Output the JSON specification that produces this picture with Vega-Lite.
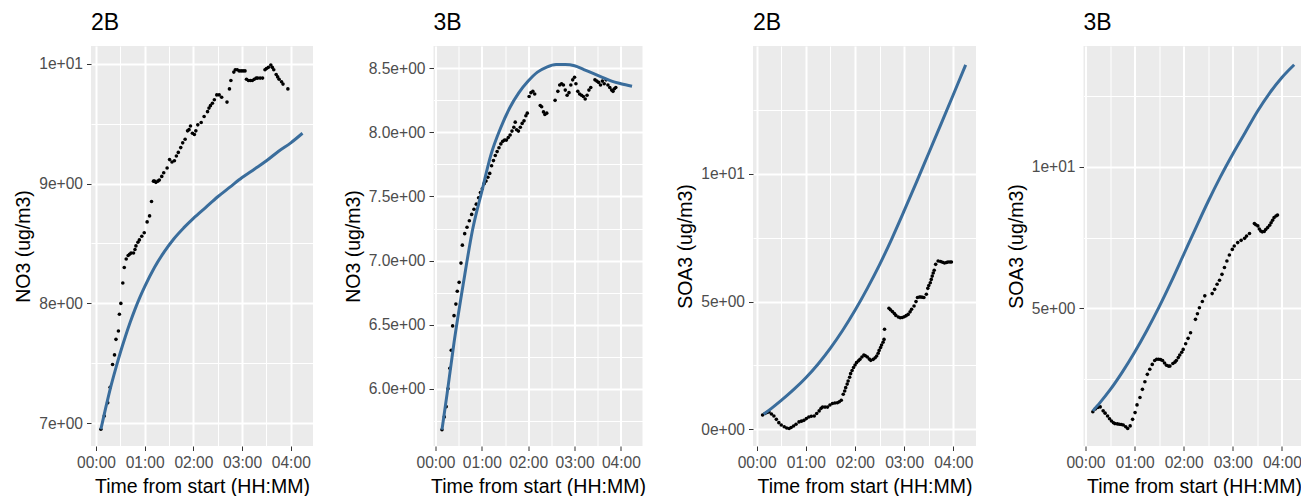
{
"$schema": "https://vega.github.io/schema/vega-lite/v6.json",
"background": "white",
"padding": {"left": 13, "top": 12, "right": 0, "bottom": 0},
"config": {
  "font": "Liberation Sans",
  "view": {"fill": "#EBEBEB", "stroke": null},
  "axis": {"domain": false, "gridColor": "#FFFFFF", "tickColor": "#333333", "tickSize": 4.5, "tickWidth": 1, "labelColor": "#4D4D4D", "labelFontSize": 15.6, "labelPadding": 4, "titleFontSize": 19.5, "titleFontWeight": "normal", "titleColor": "#000000", "titlePadding": 5, "labelOverlap": false, "labelFlush": false},
  "axisX": {"labelPadding": 5, "titlePadding": 6},
  "title": {"anchor": "start", "frame": "group", "fontSize": 23, "fontWeight": "normal", "color": "#000000", "offset": 11},
  "concat": {"spacing": 29.5}
},
"datasets": {
"obs": [
{"panel":"a","hours":0.10,"conc":6.95},{"panel":"a","hours":0.17,"conc":7.06},{"panel":"a","hours":0.24,"conc":7.17},{"panel":"a","hours":0.29,"conc":7.30},{"panel":"a","hours":0.34,"conc":7.49},{"panel":"a","hours":0.38,"conc":7.57},{"panel":"a","hours":0.41,"conc":7.70},{"panel":"a","hours":0.46,"conc":7.77},{"panel":"a","hours":0.48,"conc":7.91},{"panel":"a","hours":0.51,"conc":8.00},{"panel":"a","hours":0.55,"conc":8.17},{"panel":"a","hours":0.58,"conc":8.30},{"panel":"a","hours":0.62,"conc":8.37},{"panel":"a","hours":0.66,"conc":8.40},{"panel":"a","hours":0.69,"conc":8.41},{"panel":"a","hours":0.72,"conc":8.42},{"panel":"a","hours":0.77,"conc":8.42},{"panel":"a","hours":0.80,"conc":8.45},{"panel":"a","hours":0.82,"conc":8.48},{"panel":"a","hours":0.86,"conc":8.51},{"panel":"a","hours":0.89,"conc":8.53},{"panel":"a","hours":0.94,"conc":8.56},{"panel":"a","hours":0.99,"conc":8.59},{"panel":"a","hours":1.05,"conc":8.68},{"panel":"a","hours":1.10,"conc":8.73},{"panel":"a","hours":1.14,"conc":8.85},{"panel":"a","hours":1.18,"conc":9.02},{"panel":"a","hours":1.20,"conc":9.02},{"panel":"a","hours":1.23,"conc":9.01},{"panel":"a","hours":1.27,"conc":9.02},{"panel":"a","hours":1.30,"conc":9.03},{"panel":"a","hours":1.35,"conc":9.06},{"panel":"a","hours":1.39,"conc":9.09},{"panel":"a","hours":1.46,"conc":9.13},{"panel":"a","hours":1.51,"conc":9.20},{"panel":"a","hours":1.56,"conc":9.18},{"panel":"a","hours":1.61,"conc":9.19},{"panel":"a","hours":1.65,"conc":9.23},{"panel":"a","hours":1.69,"conc":9.26},{"panel":"a","hours":1.74,"conc":9.30},{"panel":"a","hours":1.78,"conc":9.34},{"panel":"a","hours":1.83,"conc":9.37},{"panel":"a","hours":1.88,"conc":9.44},{"panel":"a","hours":1.91,"conc":9.45},{"panel":"a","hours":1.94,"conc":9.48},{"panel":"a","hours":1.98,"conc":9.42},{"panel":"a","hours":2.02,"conc":9.41},{"panel":"a","hours":2.05,"conc":9.44},{"panel":"a","hours":2.09,"conc":9.49},{"panel":"a","hours":2.16,"conc":9.51},{"panel":"a","hours":2.22,"conc":9.56},{"panel":"a","hours":2.29,"conc":9.60},{"panel":"a","hours":2.32,"conc":9.63},{"panel":"a","hours":2.35,"conc":9.65},{"panel":"a","hours":2.39,"conc":9.67},{"panel":"a","hours":2.43,"conc":9.70},{"panel":"a","hours":2.48,"conc":9.74},{"panel":"a","hours":2.53,"conc":9.74},{"panel":"a","hours":2.58,"conc":9.72},{"panel":"a","hours":2.69,"conc":9.68},{"panel":"a","hours":2.74,"conc":9.79},{"panel":"a","hours":2.77,"conc":9.86},{"panel":"a","hours":2.83,"conc":9.93},{"panel":"a","hours":2.86,"conc":9.95},{"panel":"a","hours":2.90,"conc":9.95},{"panel":"a","hours":2.94,"conc":9.94},{"panel":"a","hours":2.98,"conc":9.94},{"panel":"a","hours":3.02,"conc":9.94},{"panel":"a","hours":3.06,"conc":9.94},{"panel":"a","hours":3.09,"conc":9.87},{"panel":"a","hours":3.13,"conc":9.86},{"panel":"a","hours":3.17,"conc":9.86},{"panel":"a","hours":3.21,"conc":9.86},{"panel":"a","hours":3.25,"conc":9.87},{"panel":"a","hours":3.29,"conc":9.88},{"panel":"a","hours":3.32,"conc":9.88},{"panel":"a","hours":3.37,"conc":9.88},{"panel":"a","hours":3.42,"conc":9.88},{"panel":"a","hours":3.47,"conc":9.95},{"panel":"a","hours":3.50,"conc":9.96},{"panel":"a","hours":3.54,"conc":9.97},{"panel":"a","hours":3.59,"conc":9.99},{"panel":"a","hours":3.62,"conc":9.97},{"panel":"a","hours":3.65,"conc":9.95},{"panel":"a","hours":3.70,"conc":9.91},{"panel":"a","hours":3.73,"conc":9.89},{"panel":"a","hours":3.76,"conc":9.87},{"panel":"a","hours":3.81,"conc":9.85},{"panel":"a","hours":3.84,"conc":9.83},{"panel":"a","hours":3.94,"conc":9.79},
{"panel":"b","hours":0.14,"conc":5.68},{"panel":"b","hours":0.19,"conc":5.78},{"panel":"b","hours":0.23,"conc":5.86},{"panel":"b","hours":0.27,"conc":6.00},{"panel":"b","hours":0.31,"conc":6.16},{"panel":"b","hours":0.34,"conc":6.30},{"panel":"b","hours":0.37,"conc":6.49},{"panel":"b","hours":0.40,"conc":6.57},{"panel":"b","hours":0.44,"conc":6.66},{"panel":"b","hours":0.47,"conc":6.76},{"panel":"b","hours":0.51,"conc":6.83},{"panel":"b","hours":0.55,"conc":6.98},{"panel":"b","hours":0.58,"conc":7.12},{"panel":"b","hours":0.63,"conc":7.21},{"panel":"b","hours":0.68,"conc":7.26},{"panel":"b","hours":0.73,"conc":7.31},{"panel":"b","hours":0.78,"conc":7.36},{"panel":"b","hours":0.83,"conc":7.40},{"panel":"b","hours":0.88,"conc":7.44},{"panel":"b","hours":0.93,"conc":7.49},{"panel":"b","hours":0.97,"conc":7.53},{"panel":"b","hours":1.01,"conc":7.56},{"panel":"b","hours":1.05,"conc":7.60},{"panel":"b","hours":1.09,"conc":7.62},{"panel":"b","hours":1.13,"conc":7.65},{"panel":"b","hours":1.17,"conc":7.68},{"panel":"b","hours":1.21,"conc":7.74},{"panel":"b","hours":1.25,"conc":7.78},{"panel":"b","hours":1.29,"conc":7.82},{"panel":"b","hours":1.33,"conc":7.85},{"panel":"b","hours":1.37,"conc":7.88},{"panel":"b","hours":1.41,"conc":7.91},{"panel":"b","hours":1.45,"conc":7.93},{"panel":"b","hours":1.49,"conc":7.94},{"panel":"b","hours":1.53,"conc":7.94},{"panel":"b","hours":1.57,"conc":7.96},{"panel":"b","hours":1.61,"conc":7.98},{"panel":"b","hours":1.65,"conc":8.01},{"panel":"b","hours":1.69,"conc":8.04},{"panel":"b","hours":1.72,"conc":8.08},{"panel":"b","hours":1.75,"conc":8.02},{"panel":"b","hours":1.79,"conc":8.01},{"panel":"b","hours":1.83,"conc":8.04},{"panel":"b","hours":1.87,"conc":8.07},{"panel":"b","hours":1.91,"conc":8.09},{"panel":"b","hours":1.95,"conc":8.13},{"panel":"b","hours":1.98,"conc":8.15},{"panel":"b","hours":2.02,"conc":8.28},{"panel":"b","hours":2.06,"conc":8.31},{"panel":"b","hours":2.10,"conc":8.32},{"panel":"b","hours":2.14,"conc":8.30},{"panel":"b","hours":2.26,"conc":8.21},{"panel":"b","hours":2.29,"conc":8.20},{"panel":"b","hours":2.33,"conc":8.16},{"panel":"b","hours":2.36,"conc":8.14},{"panel":"b","hours":2.40,"conc":8.15},{"panel":"b","hours":2.58,"conc":8.25},{"panel":"b","hours":2.64,"conc":8.32},{"panel":"b","hours":2.68,"conc":8.37},{"panel":"b","hours":2.72,"conc":8.38},{"panel":"b","hours":2.76,"conc":8.37},{"panel":"b","hours":2.80,"conc":8.33},{"panel":"b","hours":2.84,"conc":8.29},{"panel":"b","hours":2.88,"conc":8.31},{"panel":"b","hours":2.92,"conc":8.37},{"panel":"b","hours":2.96,"conc":8.41},{"panel":"b","hours":3.00,"conc":8.43},{"panel":"b","hours":3.03,"conc":8.38},{"panel":"b","hours":3.07,"conc":8.32},{"panel":"b","hours":3.11,"conc":8.30},{"panel":"b","hours":3.15,"conc":8.29},{"panel":"b","hours":3.19,"conc":8.28},{"panel":"b","hours":3.23,"conc":8.26},{"panel":"b","hours":3.27,"conc":8.29},{"panel":"b","hours":3.31,"conc":8.33},{"panel":"b","hours":3.35,"conc":8.35},{"panel":"b","hours":3.44,"conc":8.41},{"panel":"b","hours":3.48,"conc":8.40},{"panel":"b","hours":3.52,"conc":8.39},{"panel":"b","hours":3.56,"conc":8.37},{"panel":"b","hours":3.60,"conc":8.40},{"panel":"b","hours":3.64,"conc":8.38},{"panel":"b","hours":3.68,"conc":8.41},{"panel":"b","hours":3.72,"conc":8.37},{"panel":"b","hours":3.76,"conc":8.35},{"panel":"b","hours":3.80,"conc":8.33},{"panel":"b","hours":3.83,"conc":8.32},{"panel":"b","hours":3.86,"conc":8.34},{"panel":"b","hours":3.89,"conc":8.35},
{"panel":"c","hours":0.12,"conc":0.56},{"panel":"c","hours":0.17,"conc":0.62},{"panel":"c","hours":0.21,"conc":0.66},{"panel":"c","hours":0.25,"conc":0.68},{"panel":"c","hours":0.30,"conc":0.60},{"panel":"c","hours":0.35,"conc":0.52},{"panel":"c","hours":0.40,"conc":0.39},{"panel":"c","hours":0.45,"conc":0.26},{"panel":"c","hours":0.50,"conc":0.17},{"panel":"c","hours":0.56,"conc":0.10},{"panel":"c","hours":0.61,"conc":0.05},{"panel":"c","hours":0.66,"conc":0.03},{"panel":"c","hours":0.70,"conc":0.07},{"panel":"c","hours":0.75,"conc":0.13},{"panel":"c","hours":0.80,"conc":0.20},{"panel":"c","hours":0.86,"conc":0.29},{"panel":"c","hours":0.91,"conc":0.32},{"panel":"c","hours":0.96,"conc":0.35},{"panel":"c","hours":1.01,"conc":0.42},{"panel":"c","hours":1.06,"conc":0.48},{"panel":"c","hours":1.11,"conc":0.51},{"panel":"c","hours":1.17,"conc":0.52},{"panel":"c","hours":1.22,"conc":0.62},{"panel":"c","hours":1.27,"conc":0.72},{"panel":"c","hours":1.31,"conc":0.82},{"panel":"c","hours":1.34,"conc":0.87},{"panel":"c","hours":1.39,"conc":0.87},{"panel":"c","hours":1.44,"conc":0.87},{"panel":"c","hours":1.49,"conc":0.95},{"panel":"c","hours":1.54,"conc":1.01},{"panel":"c","hours":1.59,"conc":1.03},{"panel":"c","hours":1.64,"conc":1.04},{"panel":"c","hours":1.68,"conc":1.08},{"panel":"c","hours":1.72,"conc":1.14},{"panel":"c","hours":1.76,"conc":1.37},{"panel":"c","hours":1.79,"conc":1.50},{"panel":"c","hours":1.81,"conc":1.63},{"panel":"c","hours":1.84,"conc":1.77},{"panel":"c","hours":1.86,"conc":1.89},{"panel":"c","hours":1.89,"conc":2.04},{"panel":"c","hours":1.91,"conc":2.18},{"panel":"c","hours":1.94,"conc":2.30},{"panel":"c","hours":1.97,"conc":2.42},{"panel":"c","hours":2.00,"conc":2.52},{"panel":"c","hours":2.03,"conc":2.61},{"panel":"c","hours":2.07,"conc":2.68},{"panel":"c","hours":2.10,"conc":2.74},{"panel":"c","hours":2.14,"conc":2.83},{"panel":"c","hours":2.18,"conc":2.91},{"panel":"c","hours":2.21,"conc":2.88},{"panel":"c","hours":2.25,"conc":2.83},{"panel":"c","hours":2.29,"conc":2.75},{"panel":"c","hours":2.32,"conc":2.70},{"panel":"c","hours":2.37,"conc":2.74},{"panel":"c","hours":2.41,"conc":2.80},{"panel":"c","hours":2.44,"conc":2.87},{"panel":"c","hours":2.47,"conc":2.98},{"panel":"c","hours":2.49,"conc":3.09},{"panel":"c","hours":2.52,"conc":3.20},{"panel":"c","hours":2.54,"conc":3.30},{"panel":"c","hours":2.57,"conc":3.41},{"panel":"c","hours":2.59,"conc":3.52},{"panel":"c","hours":2.60,"conc":3.92},{"panel":"c","hours":2.69,"conc":4.74},{"panel":"c","hours":2.72,"conc":4.68},{"panel":"c","hours":2.76,"conc":4.61},{"panel":"c","hours":2.80,"conc":4.53},{"panel":"c","hours":2.83,"conc":4.46},{"panel":"c","hours":2.88,"conc":4.40},{"panel":"c","hours":2.92,"conc":4.37},{"panel":"c","hours":2.96,"conc":4.38},{"panel":"c","hours":3.00,"conc":4.41},{"panel":"c","hours":3.04,"conc":4.45},{"panel":"c","hours":3.08,"conc":4.50},{"panel":"c","hours":3.12,"conc":4.60},{"panel":"c","hours":3.15,"conc":4.70},{"panel":"c","hours":3.20,"conc":4.83},{"panel":"c","hours":3.24,"conc":5.00},{"panel":"c","hours":3.27,"conc":5.16},{"panel":"c","hours":3.31,"conc":5.18},{"panel":"c","hours":3.34,"conc":5.18},{"panel":"c","hours":3.37,"conc":5.17},{"panel":"c","hours":3.40,"conc":5.16},{"panel":"c","hours":3.45,"conc":5.29},{"panel":"c","hours":3.48,"conc":5.52},{"panel":"c","hours":3.50,"conc":5.63},{"panel":"c","hours":3.53,"conc":5.74},{"panel":"c","hours":3.55,"conc":5.87},{"panel":"c","hours":3.57,"conc":6.00},{"panel":"c","hours":3.59,"conc":6.12},{"panel":"c","hours":3.61,"conc":6.23},{"panel":"c","hours":3.64,"conc":6.46},{"panel":"c","hours":3.69,"conc":6.59},{"panel":"c","hours":3.74,"conc":6.57},{"panel":"c","hours":3.78,"conc":6.54},{"panel":"c","hours":3.82,"conc":6.51},{"panel":"c","hours":3.86,"conc":6.53},{"panel":"c","hours":3.89,"conc":6.55},{"panel":"c","hours":3.93,"conc":6.55},{"panel":"c","hours":3.96,"conc":6.55},
{"panel":"d","hours":0.15,"conc":1.35},{"panel":"d","hours":0.20,"conc":1.45},{"panel":"d","hours":0.25,"conc":1.50},{"panel":"d","hours":0.30,"conc":1.52},{"panel":"d","hours":0.36,"conc":1.38},{"panel":"d","hours":0.40,"conc":1.30},{"panel":"d","hours":0.45,"conc":1.20},{"panel":"d","hours":0.49,"conc":1.10},{"panel":"d","hours":0.53,"conc":1.02},{"panel":"d","hours":0.57,"conc":0.96},{"panel":"d","hours":0.60,"conc":0.93},{"panel":"d","hours":0.65,"conc":0.92},{"panel":"d","hours":0.69,"conc":0.91},{"panel":"d","hours":0.73,"conc":0.90},{"panel":"d","hours":0.77,"conc":0.88},{"panel":"d","hours":0.82,"conc":0.82},{"panel":"d","hours":0.86,"conc":0.76},{"panel":"d","hours":0.91,"conc":0.85},{"panel":"d","hours":0.96,"conc":1.08},{"panel":"d","hours":1.01,"conc":1.32},{"panel":"d","hours":1.05,"conc":1.59},{"panel":"d","hours":1.11,"conc":1.85},{"panel":"d","hours":1.16,"conc":2.14},{"panel":"d","hours":1.21,"conc":2.41},{"panel":"d","hours":1.26,"conc":2.67},{"panel":"d","hours":1.31,"conc":2.85},{"panel":"d","hours":1.36,"conc":3.02},{"panel":"d","hours":1.41,"conc":3.16},{"panel":"d","hours":1.45,"conc":3.20},{"panel":"d","hours":1.49,"conc":3.20},{"panel":"d","hours":1.53,"conc":3.19},{"panel":"d","hours":1.57,"conc":3.16},{"panel":"d","hours":1.61,"conc":3.07},{"panel":"d","hours":1.65,"conc":2.99},{"panel":"d","hours":1.69,"conc":2.96},{"panel":"d","hours":1.72,"conc":2.96},{"panel":"d","hours":1.78,"conc":3.05},{"panel":"d","hours":1.82,"conc":3.10},{"panel":"d","hours":1.85,"conc":3.16},{"panel":"d","hours":1.89,"conc":3.26},{"panel":"d","hours":1.92,"conc":3.35},{"panel":"d","hours":1.96,"conc":3.45},{"panel":"d","hours":1.99,"conc":3.55},{"panel":"d","hours":2.04,"conc":3.75},{"panel":"d","hours":2.09,"conc":3.94},{"panel":"d","hours":2.14,"conc":4.14},{"panel":"d","hours":2.24,"conc":4.61},{"panel":"d","hours":2.28,"conc":4.81},{"panel":"d","hours":2.32,"conc":5.02},{"panel":"d","hours":2.38,"conc":5.24},{"panel":"d","hours":2.43,"conc":5.44},{"panel":"d","hours":2.58,"conc":5.52},{"panel":"d","hours":2.63,"conc":5.67},{"panel":"d","hours":2.68,"conc":5.85},{"panel":"d","hours":2.73,"conc":5.99},{"panel":"d","hours":2.78,"conc":6.20},{"panel":"d","hours":2.83,"conc":6.44},{"panel":"d","hours":2.88,"conc":6.67},{"panel":"d","hours":2.93,"conc":6.88},{"panel":"d","hours":2.99,"conc":7.08},{"panel":"d","hours":3.03,"conc":7.20},{"panel":"d","hours":3.10,"conc":7.32},{"panel":"d","hours":3.17,"conc":7.40},{"panel":"d","hours":3.24,"conc":7.47},{"panel":"d","hours":3.28,"conc":7.55},{"panel":"d","hours":3.34,"conc":7.64},{"panel":"d","hours":3.44,"conc":7.99},{"panel":"d","hours":3.47,"conc":7.95},{"panel":"d","hours":3.51,"conc":7.91},{"panel":"d","hours":3.54,"conc":7.80},{"panel":"d","hours":3.57,"conc":7.73},{"panel":"d","hours":3.60,"conc":7.70},{"panel":"d","hours":3.64,"conc":7.71},{"panel":"d","hours":3.67,"conc":7.78},{"panel":"d","hours":3.71,"conc":7.85},{"panel":"d","hours":3.75,"conc":7.93},{"panel":"d","hours":3.78,"conc":8.02},{"panel":"d","hours":3.81,"conc":8.11},{"panel":"d","hours":3.84,"conc":8.20},{"panel":"d","hours":3.88,"conc":8.26},{"panel":"d","hours":3.91,"conc":8.29}
],
"mod": [
{"panel":"a","hours":0.10,"conc":6.95},{"panel":"a","hours":0.2,"conc":7.13},{"panel":"a","hours":0.3,"conc":7.30},{"panel":"a","hours":0.4,"conc":7.45},{"panel":"a","hours":0.5,"conc":7.59},{"panel":"a","hours":0.6,"conc":7.72},{"panel":"a","hours":0.7,"conc":7.84},{"panel":"a","hours":0.8,"conc":7.95},{"panel":"a","hours":0.9,"conc":8.05},{"panel":"a","hours":1.0,"conc":8.14},{"panel":"a","hours":1.2,"conc":8.30},{"panel":"a","hours":1.4,"conc":8.43},{"panel":"a","hours":1.6,"conc":8.54},{"panel":"a","hours":1.8,"conc":8.63},{"panel":"a","hours":2.0,"conc":8.71},{"panel":"a","hours":2.25,"conc":8.80},{"panel":"a","hours":2.5,"conc":8.89},{"panel":"a","hours":2.75,"conc":8.97},{"panel":"a","hours":3.0,"conc":9.05},{"panel":"a","hours":3.25,"conc":9.12},{"panel":"a","hours":3.5,"conc":9.19},{"panel":"a","hours":3.75,"conc":9.27},{"panel":"a","hours":4.0,"conc":9.34},{"panel":"a","hours":4.24,"conc":9.42},
{"panel":"b","hours":0.14,"conc":5.68},{"panel":"b","hours":0.25,"conc":5.96},{"panel":"b","hours":0.4,"conc":6.36},{"panel":"b","hours":0.6,"conc":6.82},{"panel":"b","hours":0.8,"conc":7.24},{"panel":"b","hours":1.0,"conc":7.54},{"panel":"b","hours":1.2,"conc":7.83},{"panel":"b","hours":1.4,"conc":8.03},{"panel":"b","hours":1.6,"conc":8.19},{"panel":"b","hours":1.8,"conc":8.31},{"panel":"b","hours":2.0,"conc":8.40},{"panel":"b","hours":2.2,"conc":8.47},{"panel":"b","hours":2.4,"conc":8.51},{"panel":"b","hours":2.6,"conc":8.53},{"panel":"b","hours":2.8,"conc":8.53},{"panel":"b","hours":3.0,"conc":8.52},{"panel":"b","hours":3.2,"conc":8.49},{"panel":"b","hours":3.4,"conc":8.46},{"panel":"b","hours":3.6,"conc":8.43},{"panel":"b","hours":3.8,"conc":8.40},{"panel":"b","hours":4.0,"conc":8.38},{"panel":"b","hours":4.24,"conc":8.36},
{"panel":"c","hours":0.14,"conc":0.59},{"panel":"c","hours":0.3,"conc":0.82},{"panel":"c","hours":0.5,"conc":1.13},{"panel":"c","hours":0.75,"conc":1.55},{"panel":"c","hours":1.0,"conc":2.02},{"panel":"c","hours":1.25,"conc":2.56},{"panel":"c","hours":1.5,"conc":3.18},{"panel":"c","hours":1.75,"conc":3.88},{"panel":"c","hours":2.0,"conc":4.66},{"panel":"c","hours":2.25,"conc":5.52},{"panel":"c","hours":2.5,"conc":6.45},{"panel":"c","hours":2.75,"conc":7.47},{"panel":"c","hours":3.0,"conc":8.56},{"panel":"c","hours":3.25,"conc":9.68},{"panel":"c","hours":3.5,"conc":10.82},{"panel":"c","hours":3.75,"conc":11.96},{"panel":"c","hours":4.0,"conc":13.11},{"panel":"c","hours":4.25,"conc":14.27},
{"panel":"d","hours":0.15,"conc":1.38},{"panel":"d","hours":0.3,"conc":1.68},{"panel":"d","hours":0.5,"conc":2.12},{"panel":"d","hours":0.75,"conc":2.75},{"panel":"d","hours":1.0,"conc":3.45},{"panel":"d","hours":1.25,"conc":4.22},{"panel":"d","hours":1.5,"conc":5.05},{"panel":"d","hours":1.75,"conc":5.95},{"panel":"d","hours":2.0,"conc":6.90},{"panel":"d","hours":2.25,"conc":7.85},{"panel":"d","hours":2.5,"conc":8.78},{"panel":"d","hours":2.75,"conc":9.65},{"panel":"d","hours":3.0,"conc":10.45},{"panel":"d","hours":3.25,"conc":11.20},{"panel":"d","hours":3.5,"conc":11.95},{"panel":"d","hours":3.75,"conc":12.60},{"panel":"d","hours":4.0,"conc":13.15},{"panel":"d","hours":4.25,"conc":13.60}
]
},
"hconcat": [
{
 "title": "2B", "width": 222, "height": 400,
 "encoding": {
  "x": {"field": "hours", "type": "quantitative", "scale": {"domain": [-0.103, 4.456], "nice": false, "zero": false},
   "axis": {"title": "Time from start (HH:MM)", "values": [0,0.5,1,1.5,2,2.5,3,3.5,4], "labelExpr": "datum.value % 1 !== 0 ? '' : '0' + datum.value + ':00'", "gridWidth": {"condition": {"test": "datum.value % 1 !== 0", "value": 1}, "value": 2}, "tickOpacity": {"condition": {"test": "datum.value % 1 !== 0", "value": 0}, "value": 1}}},
  "y": {"field": "conc", "type": "quantitative", "scale": {"domain": [6.81, 10.148], "nice": false, "zero": false},
   "axis": {"title": "NO3 (ug/m3)", "values": [7,7.5,8,8.5,9,9.5,10], "labelExpr": "datum.value % 1 !== 0 ? '' : (datum.value === 10 ? '1e+01' : datum.value + 'e+00')", "gridWidth": {"condition": {"test": "datum.value % 1 !== 0", "value": 1}, "value": 2}, "tickOpacity": {"condition": {"test": "datum.value % 1 !== 0", "value": 0}, "value": 1}}}
 },
 "layer": [
  {"data": {"name": "obs"}, "transform": [{"filter": "datum.panel === 'a'"}], "mark": {"type": "circle", "size": 13, "color": "#000000", "opacity": 1}},
  {"data": {"name": "mod"}, "transform": [{"filter": "datum.panel === 'a'"}], "mark": {"type": "line", "color": "#3A6D9C", "strokeWidth": 3, "interpolate": "monotone"}}
 ]
},
{
 "title": "3B", "width": 209, "height": 400,
 "encoding": {
  "x": {"field": "hours", "type": "quantitative", "scale": {"domain": [-0.043, 4.466], "nice": false, "zero": false},
   "axis": {"title": "Time from start (HH:MM)", "values": [0,0.5,1,1.5,2,2.5,3,3.5,4], "labelExpr": "datum.value % 1 !== 0 ? '' : '0' + datum.value + ':00'", "gridWidth": {"condition": {"test": "datum.value % 1 !== 0", "value": 1}, "value": 2}, "tickOpacity": {"condition": {"test": "datum.value % 1 !== 0", "value": 0}, "value": 1}}},
  "y": {"field": "conc", "type": "quantitative", "scale": {"domain": [5.553, 8.674], "nice": false, "zero": false},
   "axis": {"title": "NO3 (ug/m3)", "values": [5.75,6,6.25,6.5,6.75,7,7.25,7.5,7.75,8,8.25,8.5], "labelExpr": "(datum.value * 2) % 1 !== 0 ? '' : format(datum.value, '.1f') + 'e+00'", "gridWidth": {"condition": {"test": "(datum.value * 2) % 1 !== 0", "value": 1}, "value": 2}, "tickOpacity": {"condition": {"test": "(datum.value * 2) % 1 !== 0", "value": 0}, "value": 1}}}
 },
 "layer": [
  {"data": {"name": "obs"}, "transform": [{"filter": "datum.panel === 'b'"}], "mark": {"type": "circle", "size": 13, "color": "#000000", "opacity": 1}},
  {"data": {"name": "mod"}, "transform": [{"filter": "datum.panel === 'b'"}], "mark": {"type": "line", "color": "#3A6D9C", "strokeWidth": 3, "interpolate": "monotone"}}
 ]
},
{
 "title": "2B", "width": 223, "height": 400,
 "encoding": {
  "x": {"field": "hours", "type": "quantitative", "scale": {"domain": [-0.075, 4.46], "nice": false, "zero": false},
   "axis": {"title": "Time from start (HH:MM)", "values": [0,0.5,1,1.5,2,2.5,3,3.5,4], "labelExpr": "datum.value % 1 !== 0 ? '' : '0' + datum.value + ':00'", "gridWidth": {"condition": {"test": "datum.value % 1 !== 0", "value": 1}, "value": 2}, "tickOpacity": {"condition": {"test": "datum.value % 1 !== 0", "value": 0}, "value": 1}}},
  "y": {"field": "conc", "type": "quantitative", "scale": {"domain": [-0.654, 15.01], "nice": false, "zero": false},
   "axis": {"title": "SOA3 (ug/m3)", "values": [0,2.5,5,7.5,10,12.5], "labelExpr": "datum.value % 5 !== 0 ? '' : (datum.value === 10 ? '1e+01' : datum.value + 'e+00')", "gridWidth": {"condition": {"test": "datum.value % 5 !== 0", "value": 1}, "value": 2}, "tickOpacity": {"condition": {"test": "datum.value % 5 !== 0", "value": 0}, "value": 1}}}
 },
 "layer": [
  {"data": {"name": "obs"}, "transform": [{"filter": "datum.panel === 'c'"}], "mark": {"type": "circle", "size": 13, "color": "#000000", "opacity": 1}},
  {"data": {"name": "mod"}, "transform": [{"filter": "datum.panel === 'c'"}], "mark": {"type": "line", "color": "#3A6D9C", "strokeWidth": 3, "interpolate": "monotone"}}
 ]
},
{
 "title": "3B", "width": 221, "height": 400,
 "encoding": {
  "x": {"field": "hours", "type": "quantitative", "scale": {"domain": [-0.04, 4.46], "nice": false, "zero": false},
   "axis": {"title": "Time from start (HH:MM)", "values": [0,0.5,1,1.5,2,2.5,3,3.5,4], "labelExpr": "datum.value % 1 !== 0 ? '' : '0' + datum.value + ':00'", "gridWidth": {"condition": {"test": "datum.value % 1 !== 0", "value": 1}, "value": 2}, "tickOpacity": {"condition": {"test": "datum.value % 1 !== 0", "value": 0}, "value": 1}}},
  "y": {"field": "conc", "type": "quantitative", "scale": {"domain": [0.14, 14.26], "nice": false, "zero": false},
   "axis": {"title": "SOA3 (ug/m3)", "values": [2.5,5,7.5,10,12.5], "labelExpr": "datum.value % 5 !== 0 ? '' : (datum.value === 10 ? '1e+01' : datum.value + 'e+00')", "gridWidth": {"condition": {"test": "datum.value % 5 !== 0", "value": 1}, "value": 2}, "tickOpacity": {"condition": {"test": "datum.value % 5 !== 0", "value": 0}, "value": 1}}}
 },
 "layer": [
  {"data": {"name": "obs"}, "transform": [{"filter": "datum.panel === 'd'"}], "mark": {"type": "circle", "size": 13, "color": "#000000", "opacity": 1}},
  {"data": {"name": "mod"}, "transform": [{"filter": "datum.panel === 'd'"}], "mark": {"type": "line", "color": "#3A6D9C", "strokeWidth": 3, "interpolate": "monotone"}}
 ]
}
]
}
